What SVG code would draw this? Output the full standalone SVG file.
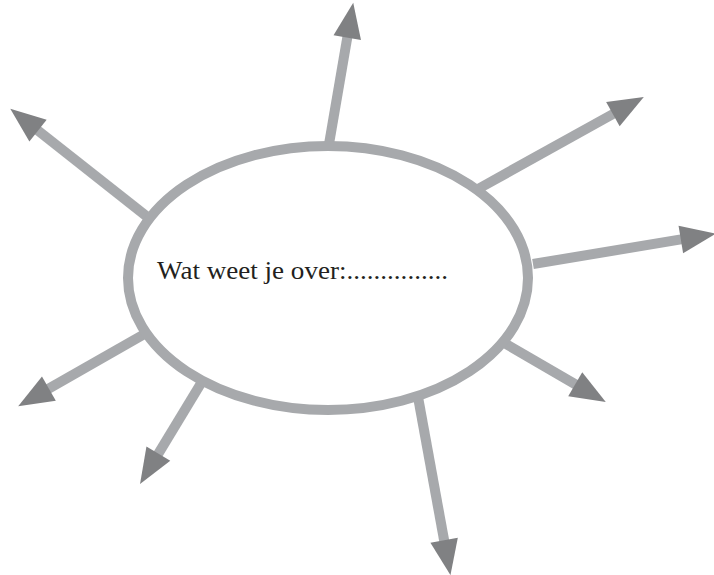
<svg xmlns="http://www.w3.org/2000/svg" width="714" height="575" viewBox="0 0 714 575">
<style>
.arm{stroke:#a7a9ac;stroke-width:10;fill:none;marker-end:url(#head)}
.oval{fill:#ffffff;stroke:#a7a9ac;stroke-width:10}
.lbl{font-family:"Liberation Serif","DejaVu Serif",serif;font-size:26px;fill:#231f20}
</style>
<defs>
<marker id="head" markerUnits="userSpaceOnUse" markerWidth="40" markerHeight="30" viewBox="0 -14 34 28" refX="3" refY="0" orient="auto">
<path d="M0,-13 L33,0 L0,13 z" fill="#808183"/>
</marker>
</defs>
<rect width="714" height="575" fill="#ffffff"/>
<g id="connectors">
<line class="arm" x1="328" y1="150" x2="347.8" y2="34.5"/>
<line class="arm" x1="150" y1="219" x2="35.5" y2="128.6"/>
<line class="arm" x1="478" y1="189" x2="615.7" y2="112.5"/>
<line class="arm" x1="533" y1="264" x2="684" y2="238.9"/>
<line class="arm" x1="148" y1="332" x2="46.1" y2="390.2"/>
<line class="arm" x1="203" y1="380" x2="156.7" y2="456.4"/>
<line class="arm" x1="506" y1="344" x2="578" y2="385.9"/>
<line class="arm" x1="418" y1="397" x2="444.7" y2="543.5"/>
</g>
<g id="topic">
<ellipse class="oval" cx="328" cy="278" rx="200" ry="132"/>
<text class="lbl" x="157" y="279" textLength="291" lengthAdjust="spacingAndGlyphs">Wat weet je over:...............</text>
</g>
</svg>
